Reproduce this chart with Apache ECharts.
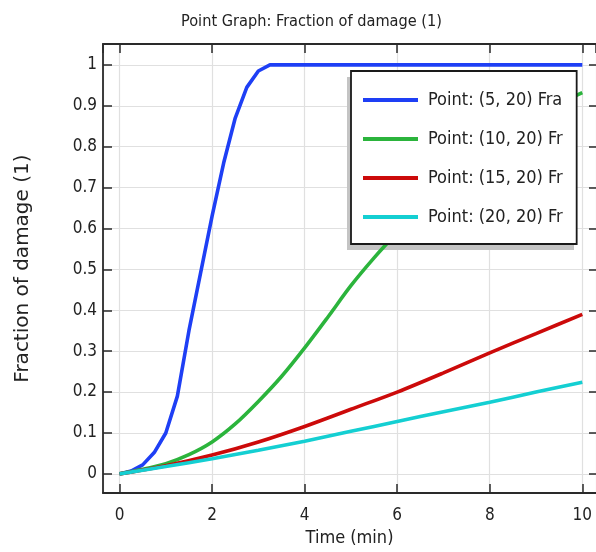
<!DOCTYPE html>
<html>
<head>
<meta charset="utf-8">
<script src="https://cdn.jsdelivr.net/npm/echarts@6/dist/echarts.min.js"></script>
<style>html,body{margin:0;padding:0;background:#fff;}#c{width:596px;height:552px;}</style>
</head>
<body>
<div id="c"></div>
<script>
const titleText = 'Point Graph: Fraction of damage (1)';
const xName = 'Time (min)';
const yName = 'Fraction of damage (1)';
const seriesNames = ['Point: (5, 20) Fra', 'Point: (10, 20) Fr', 'Point: (15, 20) Fr', 'Point: (20, 20) Fr'];
const seriesColors = ['#1e3ff5', '#2bb43c', '#cc0a0a', '#14cfd2'];

const blueTime = [0, 0.25, 0.5, 0.75, 1, 1.25, 1.5, 1.75, 2, 2.25, 2.5, 2.75, 3, 3.25, 10];
const blueVal  = [0, 0.007, 0.022, 0.052, 0.1, 0.19, 0.35, 0.49, 0.63, 0.76, 0.87, 0.945, 0.985, 1, 1];

const greenTime = [0, 0.5, 1, 1.5, 2, 2.5, 3, 3.5, 4, 4.5, 5, 5.5, 6, 6.5, 7, 7.5, 8, 8.5, 9, 9.5, 10];
const greenVal  = [0, 0.011, 0.025, 0.047, 0.078, 0.122, 0.177, 0.238, 0.308, 0.383, 0.46, 0.528, 0.59, 0.648, 0.702, 0.752, 0.797, 0.838, 0.874, 0.905, 0.932];

const redTime = [0, 1, 2, 3, 4, 5, 6, 7, 8, 9, 10];
const redVal  = [0, 0.02, 0.046, 0.078, 0.116, 0.158, 0.2, 0.247, 0.296, 0.343, 0.39];

const cyanTime = [0, 1, 2, 3, 4, 5, 6, 7, 8, 9, 10];
const cyanVal  = [0, 0.018, 0.037, 0.058, 0.08, 0.104, 0.128, 0.152, 0.175, 0.2, 0.224];

const zip = (a, b) => a.map((t, i) => [t, b[i]]);
const seriesData = [zip(blueTime, blueVal), zip(greenTime, greenVal), zip(redTime, redVal), zip(cyanTime, cyanVal)];
const smoothFlags = [false, 0.3, 0.3, 0.3];

const cond = 'DejaVu Sans Condensed, DejaVu Sans, sans-serif';
const xRange = [-0.357, 10.296];
const yRange = [-0.047, 1.051];

function fmtY(v) {
  const r = Math.round(v * 10) / 10;
  if (Math.abs(v - r) > 1e-6) return '';
  return String(r);
}
function fmtX(v) {
  const r = Math.round(v);
  if (Math.abs(v - r) > 1e-6 || r % 2 !== 0) return '';
  return String(r);
}

const axisLineStyle = { onZero: false, lineStyle: { color: '#2a2a2a', width: 1.8 } };
const tickStyle = { show: true, inside: true, length: 9, lineStyle: { color: '#2a2a2a', width: 1.5 } };

const chart = echarts.init(document.getElementById('c'), null, { renderer: 'canvas' });
chart.setOption({
  animation: false,
  backgroundColor: '#ffffff',
  title: {
    text: titleText,
    left: 176, top: 9,
    textStyle: { fontFamily: cond, fontSize: 16.2, fontWeight: 'normal', color: '#222' }
  },
  grid: { left: 103, right: 0, top: 44, bottom: 54, containLabel: false },
  graphic: [{
    type: 'rect', z: 3, silent: true,
    shape: { x: 347, y: 77, width: 227, height: 173 },
    style: { fill: '#c4c4c4' }
  }],
  legend: {
    orient: 'vertical',
    left: 351, top: 71,
    data: seriesNames,
    icon: 'rect',
    itemWidth: 55, itemHeight: 4,
    itemGap: 19,
    padding: [19, 14, 17, 12],
    backgroundColor: '#ffffff',
    borderColor: '#1a1a1a', borderWidth: 1.8,
    z: 5,
    textStyle: { fontFamily: cond, fontSize: 18, color: '#222', lineHeight: 20, padding: [0, 0, 0, 5] }
  },
  xAxis: [{
    type: 'value', min: xRange[0], max: xRange[1], minInterval: 2, maxInterval: 2,
    name: xName, nameLocation: 'middle', nameGap: 30,
    nameTextStyle: { fontFamily: cond, fontSize: 18, color: '#222' },
    axisLine: axisLineStyle, axisTick: tickStyle,
    axisLabel: { fontFamily: cond, fontSize: 17, color: '#222', margin: 14, formatter: fmtX, showMinLabel: false, showMaxLabel: false },
    splitLine: { show: true, lineStyle: { color: '#e0e0e0', width: 1.2 } }
  }, {
    type: 'value', position: 'top', min: xRange[0], max: xRange[1], minInterval: 2, maxInterval: 2,
    axisLine: axisLineStyle, axisTick: tickStyle, axisLabel: { show: false }, splitLine: { show: false }
  }],
  yAxis: [{
    type: 'value', min: yRange[0], max: yRange[1], minInterval: 0.1, maxInterval: 0.1,
    name: yName, nameLocation: 'middle', nameGap: 70, nameRotate: 90,
    nameTextStyle: { fontFamily: 'DejaVu Sans, sans-serif', fontSize: 20, color: '#222' },
    axisLine: axisLineStyle, axisTick: tickStyle,
    axisLabel: { fontFamily: cond, fontSize: 17, color: '#222', margin: 6, formatter: fmtY, showMinLabel: false, showMaxLabel: false },
    splitLine: { show: true, lineStyle: { color: '#e0e0e0', width: 1.2 } }
  }, {
    type: 'value', position: 'right', min: yRange[0], max: yRange[1], minInterval: 0.1, maxInterval: 0.1,
    axisLine: { show: false, onZero: false }, axisTick: { show: true, inside: true, length: 7, lineStyle: { color: '#2a2a2a', width: 1.5 } },
    axisLabel: { show: false }, splitLine: { show: false }
  }],
  series: seriesNames.map((name, i) => ({
    name: name,
    type: 'line',
    xAxisIndex: 0, yAxisIndex: 0,
    data: seriesData[i],
    smooth: smoothFlags[i],
    showSymbol: false, symbol: 'none',
    color: seriesColors[i],
    lineStyle: { color: seriesColors[i], width: 3.6 },
    clip: true
  }))
});
</script>
</body>
</html>
